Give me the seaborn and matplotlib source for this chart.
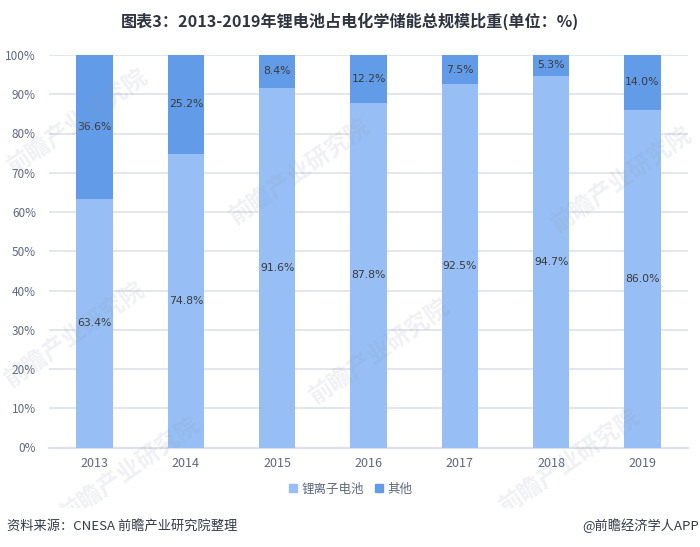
import pandas as pd
import seaborn as sns
import matplotlib.pyplot as plt

YEARS = ["2013", "2014", "2015", "2016", "2017", "2018", "2019"]
LITHIUM = [63.4, 74.8, 91.6, 87.8, 92.5, 94.7, 86.0]
OTHER = [36.6, 25.2, 8.4, 12.2, 7.5, 5.3, 14.0]
Y_TICKS = [0, 10, 20, 30, 40, 50, 60, 70, 80, 90, 100]

TITLE = "图表3：2013-2019年锂电池占电化学储能总规模比重(单位：%)"
SOURCE = "资料来源：CNESA 前瞻产业研究院整理"
BRAND = "@前瞻经济学人APP"
WATERMARK = "前瞻产业研究院"

LIGHT_BLUE = "#97BFF5"
DARK_BLUE = "#629CE9"
GRID_COLOR = "#DFE1EA"
TICK_COLOR = "#5F6880"

sns.set_theme(style="white")
plt.rcParams["font.family"] = ["Noto Sans CJK SC", "DejaVu Sans"]

df = pd.DataFrame({"year": YEARS, "lithium": LITHIUM, "other": OTHER})

W, H = 700, 547
fig = plt.figure(figsize=(W / 100, H / 100), dpi=100)
ax = fig.add_axes([49 / W, 1 - 447.5 / H, 639 / W, 392.5 / H])

sns.barplot(data=df, x="year", y="lithium", color=LIGHT_BLUE, width=0.4, saturation=1, linewidth=0, ax=ax, zorder=3)
sns.barplot(data=df, x="year", y="other", bottom=df["lithium"], color=DARK_BLUE, width=0.4, saturation=1, linewidth=0, ax=ax, zorder=3)

for i, row in df.iterrows():
    ax.text(i, row["lithium"] / 2, f"{row['lithium']:.1f}%", ha="center", va="center",
            fontsize=7.8, color="#3A3A3A", family="DejaVu Sans", zorder=5)
    ax.text(i, row["lithium"] + row["other"] / 2, f"{row['other']:.1f}%", ha="center", va="center",
            fontsize=7.8, color="#3A3A3A", family="DejaVu Sans", zorder=5)

ax.set_ylim(0, 100)
ax.set_xlim(-0.5, 6.5)
ax.set_yticks(Y_TICKS)
ax.set_yticklabels([f"{v}%" for v in Y_TICKS], fontsize=8.5, color=TICK_COLOR)
ax.tick_params(axis="x", length=0, pad=7, labelsize=9, labelcolor=TICK_COLOR)
ax.tick_params(axis="y", length=0, pad=9.4)
ax.set_xlabel("")
ax.set_ylabel("")
ax.grid(axis="y", color=GRID_COLOR, linewidth=1.2, zorder=0)
ax.set_axisbelow(True)
sns.despine(ax=ax, left=True, right=True, top=True, bottom=True)
ax.axhline(0, color=GRID_COLOR, linewidth=1.6, zorder=2, clip_on=False)
ax.patch.set_alpha(0)

# legend
handles = [plt.Rectangle((0, 0), 1, 1, color=LIGHT_BLUE), plt.Rectangle((0, 0), 1, 1, color=DARK_BLUE)]
fig.legend(handles, ["锂离子电池", "其他"], loc="center", bbox_to_anchor=(351 / W, 1 - 489 / H), ncol=2,
           frameon=False, fontsize=9, labelcolor=TICK_COLOR, handlelength=0.6, handleheight=0.6,
           handletextpad=0.4, columnspacing=0.9)

fig.text(350 / W, 1 - 21 / H, TITLE, ha="center", va="center", fontsize=11.6, fontweight="bold", color="#2F3540")

# watermarks
for x, y in [(78, 122), (300, 172), (622, 180), (75, 335), (380, 352), (570, 462), (130, 470)]:
    fig.text(x / W, 1 - y / H, WATERMARK, ha="center", va="center", rotation=35, fontsize=17,
             fontweight="bold", color="#8A93A8", alpha=0.13, zorder=10)

# footer band sits above the watermarks
fig.add_artist(plt.Rectangle((0, 0), 1, 1 - 508 / H, transform=fig.transFigure, color="white", zorder=11))
fig.text(7 / W, 1 - 526 / H, SOURCE, ha="left", va="center", fontsize=9.5, color="#333B4A", zorder=12)
fig.text(699 / W, 1 - 526 / H, BRAND, ha="right", va="center", fontsize=9.5, color="#333B4A", zorder=12)

fig.savefig("out.png", dpi=100)
